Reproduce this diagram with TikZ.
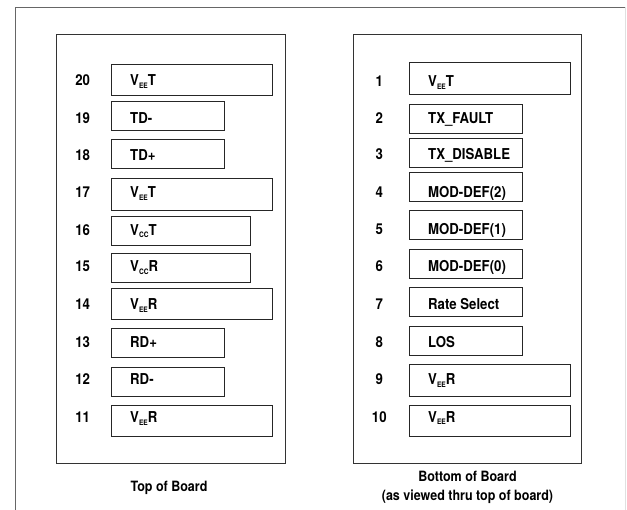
\documentclass[tikz,border=0pt]{standalone}
\usepackage{fontspec}
\setmainfont[FakeStretch=0.88]{TeX Gyre Heros}
\usetikzlibrary{calc}
\newcommand{\pinsub}[1]{\raisebox{-2.6pt}{\fontsize{7.5}{8}\selectfont #1}}
\tikzset{
	pinbox/.style={draw=black!85, line width=0.9pt, anchor=west, inner sep=0pt},
	longpin/.style={pinbox, minimum width=160.5pt, minimum height=31.5pt},
	shortpin/.style={pinbox, minimum width=112.5pt, minimum height=29pt},
	midpin/.style={pinbox, minimum width=139pt, minimum height=29pt},
	pinname/.style={anchor=base west, inner sep=0pt, font=\bfseries\fontsize{15}{17}\selectfont},
	pinnum/.style={anchor=base, inner sep=0pt, font=\bfseries\fontsize{15}{17}\selectfont},
	caption/.style={align=center, inner sep=0pt, font=\bfseries\fontsize{14.2}{18.5}\selectfont}
}

\begin{document}
\begin{tikzpicture}[x=1pt, y=-1pt]
	\useasboundingbox (0,0) rectangle (627,510);
	% frame
	\draw[black!60, line width=0.8pt] (15,510) -- (15,7.5) -- (625,7.5);
	\draw[black!12, line width=0.8pt] (625.5,7.5) -- (625.5,510);
	% boards
	\draw[black!80, line width=0.9pt] (56.7,34.3) rectangle (285,463.3);
	\draw[black!80, line width=0.9pt] (353.3,34.3) rectangle (581.7,463.3);

	% top of board, pins 20 to 11
	\node[longpin] (pin20) at (111,80) {};
	\node[shortpin] (pin19) at (111,115.5) {};
	\node[shortpin] (pin18) at (111,154.2) {};
	\node[longpin] (pin17) at (111,194.7) {};
	\node[midpin] (pin16) at (111,231.2) {};
	\node[midpin] (pin15) at (111,267.8) {};
	\node[longpin] (pin14) at (111,304.2) {};
	\node[shortpin] (pin13) at (111,343.3) {};
	\node[shortpin] (pin12) at (111,381.7) {};
	\node[longpin] (pin11) at (111,420.8) {};

	\node[pinnum] (num20) at (82.7,86) {20};
	\node[pinnum] (num19) at (82.7,123.3) {19};
	\node[pinnum] (num18) at (82.7,160.7) {18};
	\node[pinnum] (num17) at (82.7,198) {17};
	\node[pinnum] (num16) at (82.7,235.2) {16};
	\node[pinnum] (num15) at (82.7,272) {15};
	\node[pinnum] (num14) at (82.7,309.5) {14};
	\node[pinnum] (num13) at (82.7,347.7) {13};
	\node[pinnum] (num12) at (82.7,385) {12};
	\node[pinnum] (num11) at (82.7,422.7) {11};

	\node[pinname] (name20) at (130,86) {V\pinsub{EE}T};
	\node[pinname] (name19) at (130,123.3) {TD-};
	\node[pinname] (name18) at (130,160.7) {TD+};
	\node[pinname] (name17) at (130,198) {V\pinsub{EE}T};
	\node[pinname] (name16) at (130,235.2) {V\pinsub{CC}T};
	\node[pinname] (name15) at (130,272) {V\pinsub{CC}R};
	\node[pinname] (name14) at (130,309.5) {V\pinsub{EE}R};
	\node[pinname] (name13) at (130,347.7) {RD+};
	\node[pinname] (name12) at (130,385) {RD-};
	\node[pinname] (name11) at (130,422.7) {V\pinsub{EE}R};

	% bottom of board, pins 1 to 10
	\node[longpin] (pin1) at (409,78.5) {};
	\node[shortpin] (pin2) at (409,118.8) {};
	\node[shortpin] (pin3) at (409,152.5) {};
	\node[shortpin] (pin4) at (409,186.7) {};
	\node[shortpin] (pin5) at (409,225) {};
	\node[shortpin] (pin6) at (409,263.8) {};
	\node[shortpin] (pin7) at (409,302.2) {};
	\node[shortpin] (pin8) at (409,341) {};
	\node[longpin] (pin9) at (409,380.3) {};
	\node[longpin] (pin10) at (409,420.8) {};

	\node[pinnum] (num1) at (379.3,86.7) {1};
	\node[pinnum] (num2) at (379.3,123.3) {2};
	\node[pinnum] (num3) at (379.3,160) {3};
	\node[pinnum] (num4) at (379.3,197.7) {4};
	\node[pinnum] (num5) at (379.3,234.3) {5};
	\node[pinnum] (num6) at (379.3,271.7) {6};
	\node[pinnum] (num7) at (379.3,309.3) {7};
	\node[pinnum] (num8) at (379.3,347.3) {8};
	\node[pinnum] (num9) at (379.3,385) {9};
	\node[pinnum] (num10) at (379.3,422.3) {10};

	\node[pinname] (name1) at (428,86.7) {V\pinsub{EE}T};
	\node[pinname] (name2) at (428,123.3) {TX\_FAULT};
	\node[pinname] (name3) at (428,160) {TX\_DISABLE};
	\node[pinname] (name4) at (428,197.7) {MOD-DEF(2)};
	\node[pinname] (name5) at (428,234.3) {MOD-DEF(1)};
	\node[pinname] (name6) at (428,271.7) {MOD-DEF(0)};
	\node[pinname] (name7) at (428,309.3) {Rate Select};
	\node[pinname] (name8) at (428,347.3) {LOS};
	\node[pinname] (name9) at (428,385) {V\pinsub{EE}R};
	\node[pinname] (name10) at (428,422.3) {V\pinsub{EE}R};

	% captions
	\node[caption] (topcap) at (169,487.5) {Top of Board};
	\node[caption] (botcap) at (467.5,487.3) {Bottom of Board\\(as viewed thru top of board)};
\end{tikzpicture}
\end{document}
